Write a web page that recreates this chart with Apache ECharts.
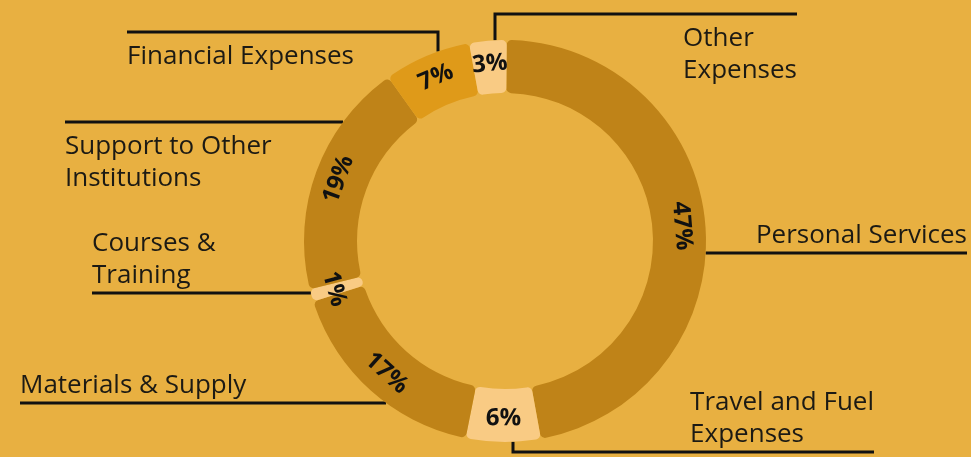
<!DOCTYPE html>
<html>
<head>
<meta charset="utf-8">
<script src="https://cdn.jsdelivr.net/npm/echarts@6/dist/echarts.min.js"></script>
<style>
  html, body { margin: 0; padding: 0; background: #e8b041; }
  #chart { width: 971px; height: 457px; }
</style>
</head>
<body>
<div id="chart"></div>
<script>
// data, clockwise from 12 o'clock
const categories = [
  "Personal Services",
  "Travel and Fuel\nExpenses",
  "Materials & Supply",
  "Courses &\nTraining",
  "Support to Other\nInstitutions",
  "Financial Expenses",
  "Other\nExpenses"
];
const shares = [47, 6, 17, 1, 19, 7, 3];
const sliceColors = ["#bf8318", "#f9cb84", "#bf8318", "#f9cb84", "#bf8318", "#df9a19", "#f9cb84"];

// ring geometry
const CX = 505, CY = 241, R0 = 148, R1 = 201;

// where each callout line runs: lineY = horizontal run, endX = outer end,
// dropX = if set, line leaves the ring vertically at this x
const callouts = [
  { lineY: 253, endX: 967, above: true },
  { lineY: 452, endX: 874, above: true, dropX: 513 },
  { lineY: 403, endX: 20, above: true },
  { lineY: 293, endX: 92, above: true },
  { lineY: 122, endX: 65, above: false },
  { lineY: 32, endX: 127, above: false, dropX: 438 },
  { lineY: 14, endX: 797, above: false, dropX: 495 }
];

let chart = echarts.init(document.getElementById("chart"));

function ringPoint(c) {
  if (c.dropX != null) {
    let dy = Math.sqrt(R1 * R1 - (c.dropX - CX) * (c.dropX - CX));
    let y = c.lineY < CY ? CY - dy : CY + dy;
    return [c.dropX, y];
  }
  let dx = Math.sqrt(R1 * R1 - (c.lineY - CY) * (c.lineY - CY));
  let x = c.endX < CX ? CX - dx : CX + dx;
  return [x, c.lineY];
}

let pieData = categories.map(function (name, i) {
  return { name: name, value: shares[i], itemStyle: { color: sliceColors[i] } };
});

let option = {
  backgroundColor: "#e8b041",
  animation: false,
  series: [
    {
      type: "pie",
      center: [CX, CY],
      radius: [R0, R1],
      startAngle: 89.5,
      clockwise: true,
      silent: true,
      itemStyle: { borderRadius: 5 },
      label: {
        show: true,
        position: "inside",
        rotate: "tangential",
        formatter: "{c}%",
        fontFamily: "Open Sans",
        fontWeight: "bold",
        fontSize: 24,
        color: "#111"
      },
      labelLine: { show: false },
      data: pieData
    },
    {
      type: "pie",
      center: [CX, CY],
      radius: [R0, R1],
      startAngle: 89.5,
      clockwise: true,
      silent: true,
      itemStyle: { color: "transparent" },
      label: {
        show: true,
        position: "outside",
        formatter: "{b}",
        fontFamily: "Open Sans",
        fontSize: 26,
        lineHeight: 32,
        color: "#1c1a14"
      },
      labelLine: {
        show: true,
        length: 10,
        length2: 10,
        lineStyle: { color: "#111", width: 3 }
      },
      labelLayout: function (params) {
        let c = callouts[params.dataIndex];
        let p0 = ringPoint(c);
        let pts = [p0, [p0[0], c.lineY], [c.endX, c.lineY]];
        let w = params.labelRect.width;
        let x = c.endX < CX ? c.endX : c.endX - w;
        return {
          x: x,
          y: c.above ? c.lineY - 1 : c.lineY + 9,
          align: "left",
          verticalAlign: c.above ? "bottom" : "top",
          labelLinePoints: pts
        };
      },
      data: categories.map(function (name, i) {
        return { name: name, value: shares[i] };
      })
    }
  ]
};

chart.setOption(option);
window.onresize = function () {
  chart.resize();
};
</script>
</body>
</html>
